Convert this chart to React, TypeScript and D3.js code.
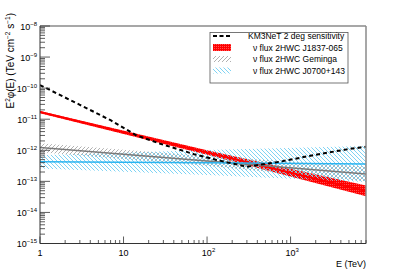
import React from 'react';
import * as d3 from 'd3';

// KM3NeT 2 deg sensitivity
const sensE = [1, 3, 7, 14, 27, 70, 130, 250, 300, 750, 1900, 4700, 8000];
const sensFlux = [1.26e-10, 2.9e-11, 9.3e-12, 3.1e-12, 1.65e-12, 7.5e-13, 4.9e-13, 3.3e-13, 2.95e-13, 4.3e-13, 7e-13, 1.07e-12, 1.3e-12];

// neutrino flux bands, sampled at these energies
const bandE = [1, 100, 8000];
const j1837Mid = [1.7e-11, 8.5e-13, 4.9e-14];
const j1837Hi = [1.85e-11, 1.0e-12, 7.4e-14];
const j1837Lo = [1.56e-11, 7.2e-13, 3.3e-14];
const gemMid = [1.23e-12, 4.5e-13, 1.74e-13];
const gemHi = [1.68e-12, 6.4e-13, 3.0e-13];
const gemLo = [8.6e-13, 3.2e-13, 1.0e-13];
const j0700Mid = [4.3e-13, 3.95e-13, 3.6e-13];
const j0700Hi = [6.9e-13, 1.02e-12, 1.38e-12];
const j0700Lo = [2.6e-13, 1.6e-13, 9.5e-14];

const xTickLabels = ['1', '10', '10', '10'];
const xTickSup = ['', '', '2', '3'];
const yExponents = [-8, -9, -10, -11, -12, -13, -14, -15];
const legendLabels = [
  'KM3NeT 2 deg sensitivity',
  'ν flux 2HWC J1837-065',
  'ν flux 2HWC Geminga',
  'ν flux 2HWC J0700+143',
];

const FONT = '"Liberation Sans", Arial, Helvetica, sans-serif';
const W = 407;
const H = 271;
const left = 40, right = 366, top = 26, bottom = 243.5;

const App = () => {
  const x = d3.scaleLog().domain([1, 8000]).range([left, right]);
  const y = d3.scaleLog().domain([1e-15, 1e-8]).range([bottom, top]);

  const line = d3.line<number[]>().x((d) => x(d[0])).y((d) => y(d[1]));
  const area = d3
    .area<number[]>()
    .x((d) => x(d[0]))
    .y0((d) => y(d[1]))
    .y1((d) => y(d[2]));

  const band = (lo: number[], hi: number[]) => bandE.map((e, i) => [e, lo[i], hi[i]]);
  const mid = (v: number[]) => bandE.map((e, i) => [e, v[i]]);

  // ticks
  const yMinor: number[] = [];
  for (let p = -15; p < -8; p++) for (let k = 2; k <= 9; k++) yMinor.push(k * Math.pow(10, p));
  const xMinor: number[] = [];
  for (let p = 0; p < 4; p++)
    for (let k = 2; k <= 9; k++) {
      const v = k * Math.pow(10, p);
      if (v <= 8000) xMinor.push(v);
    }
  const xMajor = [1, 10, 100, 1000];

  const legendY = [36, 47.5, 59, 70.5];

  return (
    <svg width={W} height={H} style={{ position: 'absolute', left: 0, top: 0, background: '#fff' }} fontFamily={FONT}>
      <defs>
        <pattern id="redPat" width="2" height="2" patternUnits="userSpaceOnUse">
          <rect width="2" height="2" fill="#ff0000" />
          <rect width="1" height="1" fill="#ff5050" />
        </pattern>
        <pattern id="grayPat" width="4" height="4" patternUnits="userSpaceOnUse">
          <path d="M-1,1 l2,-2 M0,4 l4,-4 M3,5 l2,-2" stroke="#a8a8a8" strokeWidth="0.9" />
        </pattern>
        <pattern id="bluePat" width="4" height="4" patternUnits="userSpaceOnUse">
          <path d="M-1,3 l2,2 M0,0 l4,4 M3,-1 l2,2" stroke="#7fd3f3" strokeWidth="1" />
        </pattern>
        <clipPath id="plotClip">
          <rect x={left} y={top} width={right - left} height={bottom - top} />
        </clipPath>
      </defs>

      <g clipPath="url(#plotClip)">
        <path d={area(band(j1837Lo, j1837Hi)) || ''} fill="url(#redPat)" />
        <path d={area(band(gemLo, gemHi)) || ''} fill="url(#grayPat)" />
        <path d={area(band(j0700Lo, j0700Hi)) || ''} fill="url(#bluePat)" />
        <path d={line(mid(j1837Mid)) || ''} fill="none" stroke="#ff0000" strokeWidth={2} />
        <path d={line(mid(gemMid)) || ''} fill="none" stroke="#7a7a7a" strokeWidth={1.5} />
        <path d={line(mid(j0700Mid)) || ''} fill="none" stroke="#2ab4f0" strokeWidth={1.5} />
        <path
          d={line(sensE.map((e, i) => [e, sensFlux[i]])) || ''}
          fill="none"
          stroke="#000"
          strokeWidth={2}
          strokeDasharray="4 3"
        />
      </g>

      {/* frame */}
      <line x1={left} x2={right} y1={top} y2={top} stroke="#8a8a8a" strokeWidth={1.5} />
      <line x1={right} x2={right} y1={top} y2={bottom} stroke="#8a8a8a" strokeWidth={1.5} />
      <line x1={left} x2={left} y1={top} y2={bottom} stroke="#333" strokeWidth={1} />
      <line x1={left} x2={right} y1={bottom} y2={bottom} stroke="#333" strokeWidth={1} />

      {/* y ticks */}
      {yMinor.map((v, i) => (
        <line key={'ym' + i} x1={left} x2={left + 5} y1={y(v)} y2={y(v)} stroke="#333" strokeWidth={0.8} />
      ))}
      {yExponents.map((p) => (
        <g key={'yM' + p}>
          <line x1={left} x2={left + 10} y1={y(Math.pow(10, p))} y2={y(Math.pow(10, p))} stroke="#333" strokeWidth={0.8} />
          <text x={37} y={y(Math.pow(10, p)) + 3.5} textAnchor="end" fontSize={9} fill="#000">
            10
            <tspan fontSize={6} dy={-4}>{String(p).replace('-', '−')}</tspan>
          </text>
        </g>
      ))}

      {/* x ticks */}
      {xMinor.map((v, i) => (
        <line key={'xm' + i} x1={x(v)} x2={x(v)} y1={bottom} y2={bottom - 3.5} stroke="#333" strokeWidth={0.8} />
      ))}
      {xMajor.map((v, i) => (
        <g key={'xM' + i}>
          <line x1={x(v)} x2={x(v)} y1={bottom} y2={bottom - 7} stroke="#333" strokeWidth={0.8} />
          <text x={x(v) + (xTickSup[i] ? 1.5 : 0)} y={256} textAnchor="middle" fontSize={9} fill="#000">
            {xTickLabels[i]}
            {xTickSup[i] && (
              <tspan fontSize={6} dy={-4}>
                {xTickSup[i]}
              </tspan>
            )}
          </text>
        </g>
      ))}

      {/* axis titles */}
      <text x={right} y={267} textAnchor="end" fontSize={9} fill="#000">
        E (TeV)
      </text>
      <text transform="translate(14,13) rotate(-90)" textAnchor="end" fontSize={10} fill="#000">
        E
        <tspan fontSize={6.5} dy={-4}>2</tspan>
        <tspan dy={4}>φ(E) (TeV cm</tspan>
        <tspan fontSize={6.5} dy={-4}>−2</tspan>
        <tspan dy={4}> s</tspan>
        <tspan fontSize={6.5} dy={-4}>−1</tspan>
        <tspan dy={4}>)</tspan>
      </text>

      {/* legend */}
      <rect x={210} y={32.5} width={138} height={50.5} fill="#fff" stroke="#555" strokeWidth={0.8} />
      <line x1={213} x2={231} y1={legendY[0]} y2={legendY[0]} stroke="#000" strokeWidth={2} strokeDasharray="4 2.5" />
      <rect x={213} y={legendY[1] - 3.5} width={18} height={7} fill="url(#redPat)" />
      <rect x={213} y={legendY[2] - 3} width={18} height={6} fill="url(#grayPat)" />
      <rect x={213} y={legendY[3] - 3} width={18} height={6} fill="url(#bluePat)" />
      {legendLabels.map((t, i) => (
        <text key={t} x={i === 0 ? 248 : 253} y={legendY[i] + 3} fontSize={8.5} fill="#000">
          {t}
        </text>
      ))}
    </svg>
  );
};

export default App;
